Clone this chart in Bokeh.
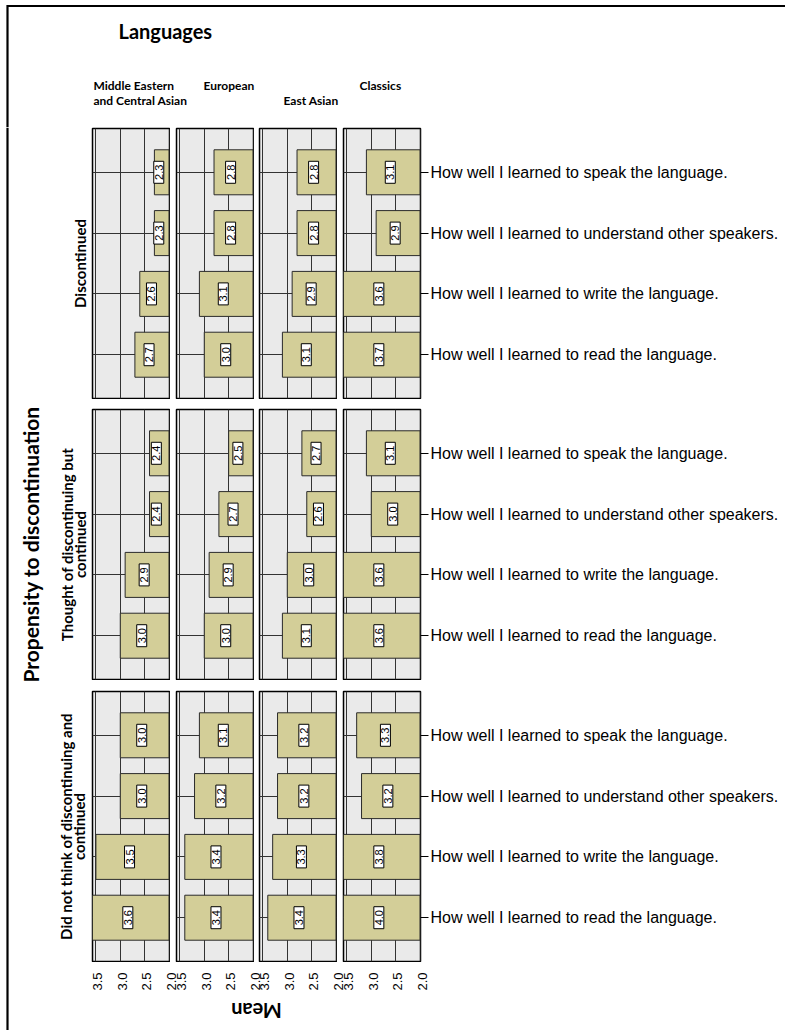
import math
from bokeh.plotting import figure
from bokeh.models import Range1d, LinearAxis, FixedTicker, Grid, Spacer
from bokeh.layouts import row, column
from bokeh.embed import file_html
from bokeh.resources import INLINE
from bokeh.core.properties import value

# ---------------- data ----------------
languages = ["Middle Eastern\nand Central Asian", "European", "East Asian", "Classics"]
groups = ["Discontinued", "Thought of discontinuing but\ncontinued", "Did not think of discontinuing and\ncontinued"]
items = ["How well I learned to speak the language.",
         "How well I learned to understand other speakers.",
         "How well I learned to write the language.",
         "How well I learned to read the language."]
mean_ticks = [3.5, 3.0, 2.5, 2.0]
mean_tick_labels = ["3.5", "3.0", "2.5", "2.0"]
axis_title = "Mean"
facet_col_title = "Languages"
facet_row_title = "Propensity to discontinuation"

# values in item order: speak, understand, write, read
disc_mideast = [2.3, 2.3, 2.6, 2.7]
disc_european = [2.8, 2.8, 3.1, 3.0]
disc_eastasian = [2.8, 2.8, 2.9, 3.1]
disc_classics = [3.1, 2.9, 3.6, 3.7]
thought_mideast = [2.4, 2.4, 2.9, 3.0]
thought_european = [2.5, 2.7, 2.9, 3.0]
thought_eastasian = [2.7, 2.6, 3.0, 3.1]
thought_classics = [3.1, 3.0, 3.6, 3.6]
notthink_mideast = [3.0, 3.0, 3.5, 3.6]
notthink_european = [3.1, 3.2, 3.4, 3.4]
notthink_eastasian = [3.2, 3.2, 3.3, 3.4]
notthink_classics = [3.3, 3.2, 3.8, 4.0]

table = [
    [disc_mideast, disc_european, disc_eastasian, disc_classics],
    [thought_mideast, thought_european, thought_eastasian, thought_classics],
    [notthink_mideast, notthink_european, notthink_eastasian, notthink_classics],
]

# ---------------- style / layout ----------------
BAR = "#D3CE98"
PANEL_BG = "#EAEAEA"
GRID = "#333333"
X_LEFT, X_RIGHT = 3.57, 1.99
BASE = 2.0
FW, FH = 77, 270
BOLD_FONT = "Lato"
SANS = "Liberation Sans"
COL_LEFTS = [92, 176, 259, 343]     # page x of panel frames
LEFT_W = 91
GAPS = [COL_LEFTS[i + 1] - COL_LEFTS[i] - FW - 2 for i in range(3)]
PX_PER_UNIT = FW / (X_LEFT - X_RIGHT)

ypos = [len(items) - 1 - i for i in range(len(items))]  # speak on top


def make_panel(vals, right_axis=False):
    p = figure(frame_width=FW, frame_height=FH,
               x_range=Range1d(X_LEFT, X_RIGHT), y_range=Range1d(-0.72, 3.72),
               x_axis_location=None, y_axis_location=None,
               toolbar_location=None, output_backend="svg",
               min_border_left=1, min_border_right=1, min_border_top=1, min_border_bottom=1,
               background_fill_color=PANEL_BG, border_fill_color="white",
               outline_line_color="black", outline_line_width=1.5)
    p.grid.visible = False
    p.add_layout(Grid(dimension=0, ticker=FixedTicker(ticks=mean_ticks),
                      grid_line_color=GRID, grid_line_width=1))
    p.add_layout(Grid(dimension=1, ticker=FixedTicker(ticks=ypos),
                      grid_line_color=GRID, grid_line_width=1))
    p.hbar(y=ypos, left=vals, right=BASE, height=0.74,
           fill_color=BAR, line_color="#2a2a2a", line_width=1)
    lx = [(min(v, X_LEFT) + BASE) / 2 + 0.06 for v in vals]
    p.rect(x=lx, y=ypos, width=10, height=22, width_units="screen", height_units="screen",
           fill_color="white", line_color="black", line_width=1)
    p.text(x=lx, y=ypos, text=[f"{v:.1f}" for v in vals], angle=math.pi / 2,
           text_align="center", text_baseline="middle",
           text_font=value(SANS), text_font_size="11px", text_color="black")
    if right_axis:
        ax = LinearAxis(ticker=FixedTicker(ticks=ypos),
                        major_label_overrides={ypos[i]: items[i] for i in range(len(items))},
                        axis_line_color=None, major_tick_in=0, major_tick_out=8,
                        major_tick_line_color="black", minor_tick_line_color=None,
                        major_label_standoff=2, major_label_text_font=SANS,
                        major_label_text_font_size="16px", major_label_text_color="black")
        p.add_layout(ax, "right")
    return p


def text_fig(w, h):
    p = figure(width=w, height=h, x_range=Range1d(0, w), y_range=Range1d(0, h),
               x_axis_location=None, y_axis_location=None, toolbar_location=None,
               output_backend="svg", min_border=0, outline_line_color=None,
               background_fill_color="white", border_fill_color="white")
    p.grid.visible = False
    return p


def txt(p, h, x, py, s, size, bold=True, angle=0.0, align="left", baseline="alphabetic", font=BOLD_FONT):
    p.text(x=[x], y=[h - py], text=[s], angle=angle, text_align=align, text_baseline=baseline,
           text_font=value(font), text_font_size=size,
           text_font_style="bold" if bold else "normal", text_color="black")


PAGE_W, PAGE_H = 785, 1030

# header (page y 0..127)
HH = 127
header = text_fig(PAGE_W, HH)
header.segment(x0=[7], y0=[HH - 5.5], x1=[PAGE_W], y1=[HH - 5.5], line_color="black", line_width=2.2)
header.segment(x0=[7], y0=[0], x1=[7], y1=[HH - 4.5], line_color="black", line_width=2.2)
txt(header, HH, 118, 30, facet_col_title, "20px")
l1, l2 = languages[0].split("\n")
txt(header, HH, 93, 85, l1, "12px")
txt(header, HH, 93, 100, l2, "12px")
txt(header, HH, 203, 85, languages[1], "12px")
txt(header, HH, 283, 100, languages[2], "12px")
txt(header, HH, 359, 85, languages[3], "12px")

# left labels (page y 127..PAGE_H, page x 0..91)
LH = PAGE_H - HH
left = text_fig(LEFT_W, LH)
left.segment(x0=[7], y0=[0], x1=[7], y1=[LH], line_color="black", line_width=2.2)
row_centers = [263 - HH, 544 - HH, 826 - HH]
ang = math.pi / 2
txt(left, LH, 79, row_centers[0], groups[0], "15px", angle=ang, align="center", baseline="middle")
g1a, g1b = groups[1].split("\n")
txt(left, LH, 66, row_centers[1], g1a, "15px", angle=ang, align="center", baseline="middle")
txt(left, LH, 79, row_centers[1], g1b, "15px", angle=ang, align="center", baseline="middle")
g2a, g2b = groups[2].split("\n")
txt(left, LH, 65, row_centers[2], g2a, "15px", angle=ang, align="center", baseline="middle")
txt(left, LH, 78, row_centers[2], g2b, "15px", angle=ang, align="center", baseline="middle")
txt(left, LH, 30, row_centers[1], facet_row_title, "21px", angle=ang, align="center", baseline="middle")

# panels
rows = []
for r in range(3):
    kids = []
    for c in range(4):
        kids.append(make_panel(table[r][c], right_axis=(c == 3)))
        if c < 3:
            kids.append(Spacer(width=GAPS[c]))
    rows.append(row(*kids))

# bottom tick-label strip (page y 962..995), one scale per column
SW, SH = PAGE_W - LEFT_W, 33
strip = text_fig(SW, SH)
for c, L in enumerate(COL_LEFTS):
    start = X_LEFT + (L - LEFT_W) / PX_PER_UNIT
    end = X_LEFT - (PAGE_W - L) / PX_PER_UNIT
    name = f"col{c}"
    strip.extra_x_ranges[name] = Range1d(start, end)
    strip.text(x=mean_ticks, y=[SH - 10] * len(mean_ticks), text=mean_tick_labels,
               x_range_name=name, angle=ang, text_align="right", text_baseline="middle",
               x_offset=2, text_font=value(SANS), text_font_size="13px", text_color="black")

MH = PAGE_H - 127 - 272 - 9 - 272 - 10 - 272 - SH
mean_fig = text_fig(400, MH)
txt(mean_fig, MH, 256 - LEFT_W, 15, axis_title, "20px", angle=math.pi, align="center", baseline="middle")

panels_col = column(rows[0], Spacer(height=9), rows[1], Spacer(height=10), rows[2], strip, mean_fig)
layout = column(header, row(left, panels_col))

open("out.html", "w").write(file_html(layout, INLINE))
